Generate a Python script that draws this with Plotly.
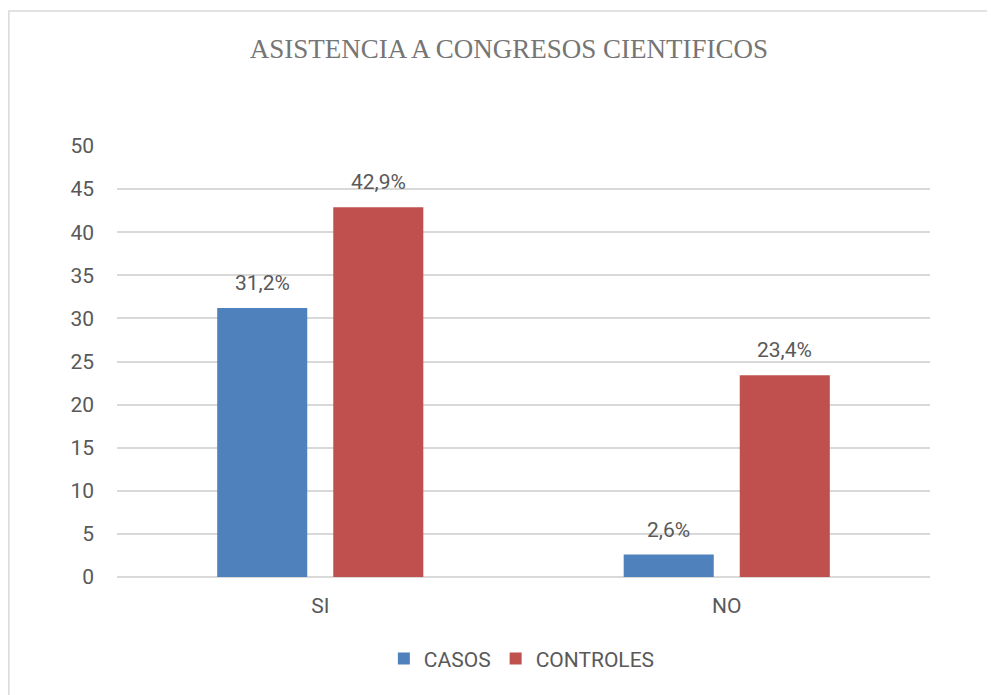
import plotly.graph_objects as go

# Datos
categorias = ['SI', 'NO']
casos = [31.2, 2.6]
controles = [42.9, 23.4]
series = ['CASOS', 'CONTROLES']
colores = ['#4F81BD', '#C0504D']
y_ticks = list(range(0, 55, 5))

fuente_ejes = 'Liberation Sans Narrow, Roboto, Arial, sans-serif'
gris = '#595959'

fig = go.Figure()

for nombre, valores, color in zip(series, [casos, controles], colores):
    fig.add_trace(go.Bar(
        x=categorias,
        y=valores,
        name=nombre,
        marker=dict(color=color, line=dict(width=0)),
        offsetgroup=nombre,
    ))

# Etiquetas de datos (formato con coma decimal)
for i, (valores, nombre) in enumerate(zip([casos, controles], series)):
    for cat, v in zip(categorias, valores):
        fig.add_annotation(
            x=cat, y=v, xref='x', yref='y',
            text=f'{v:.1f}%'.replace('.', ','),
            showarrow=False,
            xshift=-58 if i == 0 else 58,
            yshift=25,
            font=dict(family=fuente_ejes, size=21, color=gris),
        )

# Marco del gráfico
fig.add_shape(
    type='rect', xref='paper', yref='paper',
    x0=-0.133, x1=1.09, y0=-0.30, y1=1.313,
    line=dict(color='#D9D9D9', width=1.5),
    fillcolor='rgba(0,0,0,0)', layer='below',
)

fig.update_layout(
    width=995,
    height=695,
    margin=dict(l=109, r=73, t=138, b=126),
    paper_bgcolor='white',
    plot_bgcolor='white',
    title=dict(
        text='ASISTENCIA A CONGRESOS CIENTIFICOS',
        x=0.482, xref='paper', xanchor='center',
        y=0.942, yref='container', yanchor='middle',
        font=dict(family='Liberation Serif, DejaVu Serif, serif', size=27, color='#757575'),
    ),
    barmode='group',
    bargap=0.429,
    bargroupgap=0.224,
    showlegend=True,
    legend=dict(
        orientation='h',
        x=0.498, xanchor='center',
        y=-0.19, yanchor='middle',
        font=dict(family=fuente_ejes, size=21, color=gris),
        itemwidth=30,
        traceorder='normal',
    ),
    xaxis=dict(
        showgrid=False,
        showline=False,
        tickfont=dict(family=fuente_ejes, size=21, color=gris),
        ticks='outside', ticklen=10, tickcolor='rgba(0,0,0,0)',
    ),
    yaxis=dict(
        range=[0, 50],
        tickvals=y_ticks,
        showgrid=True,
        gridcolor='#D9D9D9',
        gridwidth=1.5,
        zeroline=True,
        zerolinecolor='#D9D9D9',
        zerolinewidth=1.5,
        tickfont=dict(family=fuente_ejes, size=21, color=gris),
        ticklabelstandoff=22,
    ),
)

fig.write_html('out.html')
